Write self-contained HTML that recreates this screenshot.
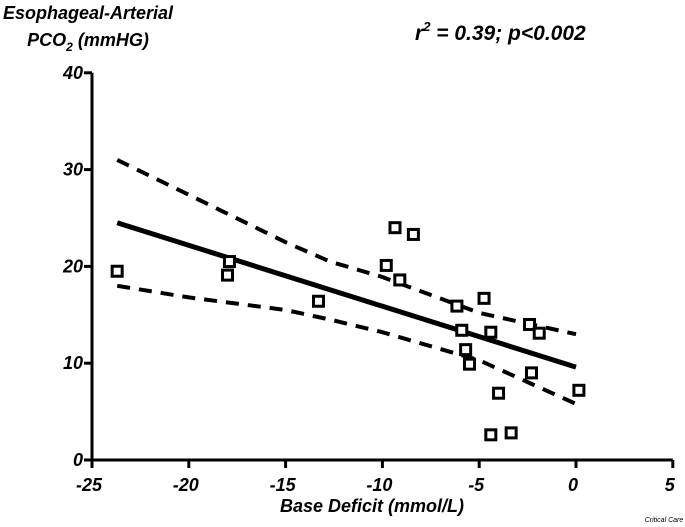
<!DOCTYPE html>
<html><head><meta charset="utf-8"><style>
html,body{margin:0;padding:0;background:#fff;}
svg{display:block;font-family:"Liberation Sans",Arial,sans-serif;font-weight:bold;font-style:italic;}
</style></head><body>
<svg id="chart" width="685" height="527" viewBox="0 0 685 527">
<text x="88" y="19" font-size="18" text-anchor="middle">Esophageal-Arterial</text>
<text x="88" y="46" font-size="18" text-anchor="middle">PCO<tspan font-size="12" dy="5">2</tspan><tspan dy="-5"> (mmHG)</tspan></text>
<text x="415" y="40" font-size="21">r<tspan font-size="13" dy="-9">2</tspan><tspan dy="9"> = 0.39; p&lt;0.002</tspan></text>
<text x="372" y="512" font-size="18" text-anchor="middle">Base Deficit (mmol/L)</text>
<text x="664" y="522" font-size="7" font-weight="normal" text-anchor="middle">Critical Care</text>
<g id="axes"></g>
<g id="marks"></g>
</svg>
<script>
const xTicks = [-25,-20,-15,-10,-5,0,5];
const yTicks = [0,10,20,30,40];
const pointsX = [-23.7,-17.9,-18.0,-13.3,-9.8,-9.35,-9.1,-8.4,-6.15,-5.9,-5.7,-5.5,-4.75,-4.4,-4.4,-4.0,-3.35,-2.4,-2.3,-1.9,0.15];
const pointsY = [19.5,20.5,19.1,16.4,20.1,24.0,18.6,23.3,15.9,13.4,11.4,9.9,16.7,13.2,2.6,6.9,2.8,14.0,9.0,13.1,7.2];
const fitX = [-23.7,0];
const fitY = [24.5,9.6];
const bandX = [-23.7,-20,-15,-12.7,-10,-5,0];
const upperY = [31.0,27.4,22.5,20.5,18.9,15.2,13.0];
const lowerY = [18.0,16.8,15.5,14.5,13.2,10.3,5.8];

const NS="http://www.w3.org/2000/svg";
const sx = v => 92 + (v + 25) * 19.36;
const sy = v => 460 - v * 9.68;
const axes=document.getElementById('axes'), marks=document.getElementById('marks');
function mk(tag, attrs, parent){const e=document.createElementNS(NS,tag);for(const k in attrs)e.setAttribute(k,attrs[k]);parent.appendChild(e);return e;}

let e=mk('line',{x1:sx(-25),y1:sy(0),x2:sx(5),y2:sy(0),stroke:'#000','stroke-width':3},axes);


e=mk('line',{x1:sx(-25),y1:sy(0)+1,x2:sx(-25),y2:sy(40),stroke:'#000','stroke-width':3},axes);


xTicks.forEach(t=>{
  const l=mk('line',{x1:sx(t),y1:sy(0),x2:sx(t),y2:sy(0)+8,stroke:'#000','stroke-width':3},axes);
  
  
  const tx=mk('text',{x:sx(t)-3,y:sy(0)+31,'font-size':18,'text-anchor':'middle'},axes);
  tx.textContent=t;
  
  
});
yTicks.forEach(t=>{
  const l=mk('line',{x1:sx(-25)-8,y1:sy(t),x2:sx(-25),y2:sy(t),stroke:'#000','stroke-width':3},axes);
  
  
  const tx=mk('text',{x:sx(-25)-9,y:sy(t)+6,'font-size':18,'text-anchor':'end'},axes);
  tx.textContent=t;
  
  
});
function pathOf(xs,ys){return xs.map((x,i)=>(i?'L':'M')+sx(x).toFixed(1)+' '+sy(ys[i]).toFixed(1)).join(' ');}
e=mk('path',{d:pathOf(bandX,upperY),fill:'none',stroke:'#000','stroke-width':4,'stroke-dasharray':'13 9'},marks);


e=mk('path',{d:pathOf(bandX,lowerY),fill:'none',stroke:'#000','stroke-width':4,'stroke-dasharray':'13 9'},marks);


e=mk('path',{d:pathOf(fitX,fitY),fill:'none',stroke:'#000','stroke-width':5},marks);


pointsX.forEach((x,i)=>{
  const r=mk('rect',{x:sx(x)-5,y:sy(pointsY[i])-5,width:10,height:10,fill:'#fff',stroke:'#000','stroke-width':3},marks);
  
  
});
</script>
</body></html>
